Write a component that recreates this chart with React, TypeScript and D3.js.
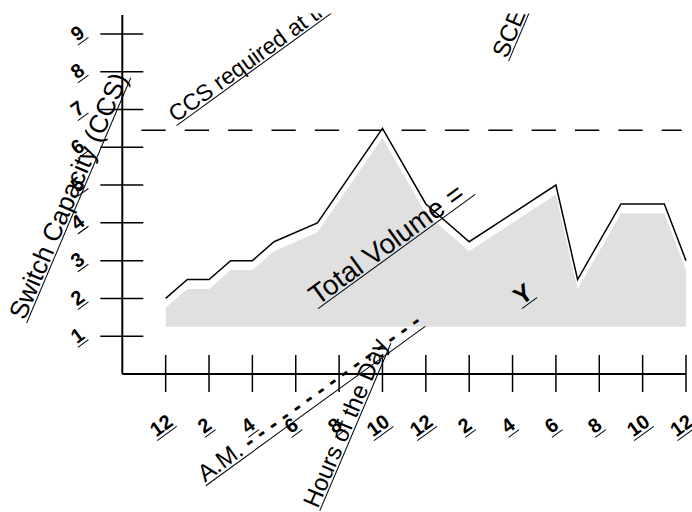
import React, { useLayoutEffect, useRef, useState } from 'react';
import * as d3 from 'd3';

// ---- data ----
const hours = [0, 1, 2, 3, 4, 5, 7, 10, 12, 14, 18, 19, 21, 23, 24];
const volume = [2, 2.5, 2.5, 3, 3, 3.5, 4, 6.5, 4.5, 3.5, 5, 2.5, 4.5, 4.5, 3];
const xTickHours = [0, 2, 4, 6, 8, 10, 12, 14, 16, 18, 20, 22, 24];
const xTickLabels = ['12', '2', '4', '6', '8', '10', '12', '2', '4', '6', '8', '10', '12'];
const yTickValues = [1, 2, 3, 4, 5, 6, 7, 8, 9];
const ccsRequired = 6.45;
const shadowDrop = 0.25;
const areaBase = 1.25;

const amDashes = ' - - - - - - - - - - - - - - -';
const annotations = [
  { text: 'Switch Capacity (CCS)', h: -6.5, v: 1.4, angle: -67, size: 26, weight: 'normal' },
  { text: 'CCS required at the busy hour', h: 0.47, v: 6.64, angle: -36, size: 23, weight: 'normal' },
  { text: 'SCENARIO', h: 15.73, v: 8.33, angle: -67, size: 24, weight: 'normal' },
  { text: 'Total Volume = ', h: 7.0, v: 1.8, angle: -36, size: 28, weight: 'normal' },
  { text: 'Y', h: 16.4, v: 1.8, angle: -36, size: 25, weight: 'bold' },
  { text: 'Hours of the Day', h: 7.02, v: -3.57, angle: -67, size: 24, weight: 'normal' },
];

const W = 692;
const H = 512;

type UProps = {
  x: number;
  y: number;
  angle: number;
  size: number;
  weight: string;
  anchor?: 'start' | 'middle';
  dy?: number;
  children: React.ReactNode;
  ulGap?: number;
};

function UText({ x, y, angle, size, weight, anchor = 'start', dy = 0, children, ulGap }: UProps) {
  const ref = useRef<SVGTextElement>(null);
  const [len, setLen] = useState(0);
  useLayoutEffect(() => {
    if (ref.current) setLen(ref.current.getComputedTextLength());
  });
  const x0 = anchor === 'middle' ? -len / 2 : 0;
  const gap = ulGap ?? Math.max(2, size * 0.12);
  return (
    <g transform={`translate(${x},${y}) rotate(${angle})`}>
      <text
        ref={ref}
        x={0}
        y={dy}
        textAnchor={anchor}
        fontSize={size}
        fontWeight={weight}
        xmlSpace="preserve"
        style={{ whiteSpace: 'pre' }}
      >
        {children}
      </text>
      {len > 0 && (
        <line x1={x0 - 1} x2={x0 + len + 1} y1={dy + gap} y2={dy + gap} stroke="#000" strokeWidth={1} />
      )}
    </g>
  );
}

export default function App() {
  const x = d3.scaleLinear().domain([-2, 24]).range([122.3, 686]);
  const y = d3.scaleLinear().domain([0, 9.5]).range([374, 15]);

  const pts = hours.map((h, i) => ({ h, v: volume[i] }));
  const line = d3
    .line<{ h: number; v: number }>()
    .x((d) => x(d.h))
    .y((d) => y(d.v));
  const area = d3
    .area<{ h: number; v: number }>()
    .x((d) => x(d.h))
    .y0(() => y(areaBase))
    .y1((d) => y(d.v - shadowDrop));

  const period = x(2) - x(0);
  const dash = period * 0.56;
  const gap = period - dash;

  const yTickLabelH = -4.05;
  const xTickLabelV = -1.38;

  return (
    <svg
      width={W}
      height={H}
      style={{ position: 'absolute', left: 0, top: 0, background: '#fff' }}
      fontFamily="'Liberation Sans', Arial, sans-serif"
    >
      <defs>
        <clipPath id="topclip">
          <rect x={0} y={13.5} width={W} height={H} />
        </clipPath>
      </defs>
      <rect x={0} y={0} width={W} height={H} fill="#fff" />
      <g clipPath="url(#topclip)">
        <path d={area(pts) || ''} fill="#e0e0e0" stroke="none" />
        <path d={line(pts) || ''} fill="none" stroke="#000" strokeWidth={1.5} strokeLinejoin="miter" />
        <line
          x1={x(0) - dash}
          x2={x(23.8)}
          y1={y(ccsRequired)}
          y2={y(ccsRequired)}
          stroke="#000"
          strokeWidth={1.5}
          strokeDasharray={`${dash} ${gap}`}
        />
        {/* axes */}
        <line x1={x(-2)} x2={x(-2)} y1={y(9.5)} y2={y(0)} stroke="#000" strokeWidth={2} />
        <line x1={x(-2)} x2={x(24)} y1={y(0)} y2={y(0)} stroke="#000" strokeWidth={2} />
        {yTickValues.map((v) => (
          <line key={'yt' + v} x1={x(-2) - 22} x2={x(-2) + 21} y1={y(v)} y2={y(v)} stroke="#000" strokeWidth={1.5} />
        ))}
        {xTickHours.map((h) => (
          <line key={'xt' + h} x1={x(h)} x2={x(h)} y1={y(0) - 19} y2={y(0) + 18} stroke="#000" strokeWidth={1.5} />
        ))}
        {yTickValues.map((v) => (
          <UText key={'yl' + v} x={x(yTickLabelH)} y={y(v)} angle={-36} size={20} weight="bold" anchor="middle" dy={6} ulGap={3}>
            {String(v)}
          </UText>
        ))}
        {xTickHours.map((h, i) => (
          <UText
            key={'xl' + h}
            x={x(h) - 4}
            y={y(xTickLabelV)}
            angle={-36}
            size={20}
            weight="bold"
            anchor="middle"
            dy={6}
            ulGap={3}
          >
            {xTickLabels[i]}
          </UText>
        ))}
        <UText x={x(1.81)} y={y(-2.88)} angle={-36} size={24} weight="normal">
          <tspan>A.M.</tspan>
          <tspan fontWeight="bold">{amDashes}</tspan>
        </UText>
        {annotations.map((a, i) => (
          <UText key={'an' + i} x={x(a.h)} y={y(a.v)} angle={a.angle} size={a.size} weight={a.weight} ulGap={2.5}>
            {a.text}
          </UText>
        ))}
      </g>
    </svg>
  );
}
